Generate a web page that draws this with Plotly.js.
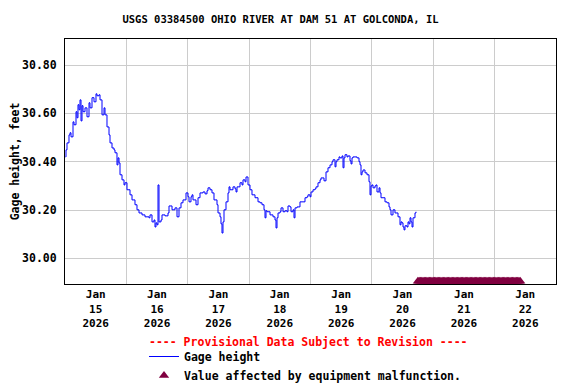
<!DOCTYPE html>
<html>
<head>
<meta charset="utf-8">
<script src="https://cdn.plot.ly/plotly-3.0.1.min.js"></script>
<style>html,body{margin:0;padding:0;background:#fff;}#chart{width:576px;height:384px;}</style>
</head>
<body>
<div id="chart"></div>
<script>
// Hours since 2026-01-15 00:00
const hours = [0.20,0.39,0.78,1.56,1.96,2.35,3.13,3.52,4.30,4.69,5.08,5.47,5.87,6.26,6.65,7.04,7.82,8.60,9.39,9.78,
10.56,11.34,12.12,12.51,13.30,13.69,14.47,15.25,15.64,16.42,17.21,17.60,18.38,19.16,19.55,20.33,20.73,21.12,21.51,22.29,
23.07,23.46,24.24,25.42,26.20,27.37,28.15,28.94,30.11,31.28,32.85,33.24,34.02,34.80,35.19,35.58,35.98,36.37,36.76,37.54,
37.93,39.11,40.28,40.67,41.85,43.01,43.80,44.58,45.36,46.14,47.32,48.10,48.49,49.27,49.66,50.05,51.23,52.01,52.79,53.96,
54.75,55.53,55.92,56.70,57.48,58.26,59.44,59.83,60.61,61.00,61.39,61.78,62.18,62.96,63.74,64.13,64.52,65.30,65.69,66.48,
66.87,67.26,68.43,69.21,69.61,70.39,70.78,71.56,72.34,73.12,74.30,75.47,76.25,77.04,77.82,78.21,78.60,78.99,80.17,81.34,
82.12,82.51,82.90,83.30,84.08,84.47,85.25,86.03,86.81,87.20,87.98,88.38,89.16,89.55,89.94,90.72,91.89,93.07,93.85,94.63,
95.02,95.80,96.20,96.98,97.76,98.15,98.93,99.72,100.11,100.89,101.28,102.06,102.84,103.63,104.41,104.80,105.58,105.97,106.36,107.15,
107.54,108.32,108.71,109.10,109.49,110.27,110.66,111.45,111.84,112.23,112.62,113.40,114.18,114.97,115.36,115.75,116.14,116.53,117.31,118.09,
118.88,119.27,119.66,120.05,120.44,121.22,121.61,122.00,122.79,123.18,123.57,124.35,125.13,125.91,126.70,127.09,127.48,128.26,129.04,129.43,
130.22,131.00,131.39,131.78,132.17,132.56,132.95,133.74,134.13,134.52,134.91,135.30,135.69,136.08,136.86,137.25];

const gageHeight = [30.420,30.449,30.478,30.511,30.520,30.503,30.565,30.553,30.607,30.582,30.636,30.615,30.656,30.569,30.632,30.607,30.623,30.586,30.644,30.623,
30.665,30.648,30.681,30.673,30.677,30.656,30.594,30.623,30.594,30.544,30.511,30.478,30.457,30.449,30.437,30.387,30.416,30.395,30.346,30.325,
30.304,30.313,30.284,30.263,30.242,30.222,30.201,30.188,30.180,30.172,30.168,30.180,30.151,30.159,30.130,30.147,30.139,30.304,30.151,30.159,
30.180,30.176,30.188,30.217,30.201,30.209,30.172,30.209,30.230,30.242,30.271,30.255,30.234,30.255,30.263,30.242,30.222,30.251,30.271,30.275,
30.267,30.280,30.292,30.284,30.271,30.242,30.222,30.188,30.172,30.143,30.105,30.151,30.201,30.234,30.271,30.296,30.284,30.284,30.296,30.288,
30.275,30.296,30.313,30.304,30.325,30.317,30.337,30.304,30.284,30.263,30.251,30.234,30.230,30.222,30.201,30.168,30.197,30.193,30.180,30.172,
30.159,30.126,30.168,30.188,30.193,30.209,30.193,30.197,30.193,30.217,30.213,30.193,30.201,30.168,30.209,30.213,30.234,30.234,30.251,30.255,
30.263,30.255,30.275,30.284,30.288,30.296,30.313,30.325,30.333,30.333,30.321,30.358,30.375,30.387,30.400,30.408,30.379,30.400,30.408,30.420,
30.416,30.424,30.375,30.416,30.429,30.420,30.424,30.404,30.391,30.416,30.420,30.420,30.416,30.400,30.387,30.346,30.358,30.366,30.354,30.346,
30.317,30.263,30.300,30.304,30.292,30.300,30.304,30.275,30.292,30.271,30.251,30.251,30.234,30.230,30.213,30.201,30.180,30.201,30.188,30.188,
30.172,30.139,30.151,30.147,30.130,30.118,30.135,30.130,30.151,30.143,30.168,30.151,30.130,30.168,30.188,30.193];

// Equipment malfunction flags (hours since 2026-01-15 00:00)
const malfunctionHours = [138,138.5,139,139.5,140,140.5,141,141.5,142,142.5,143,143.5,144,144.5,145,145.5,146,146.5,147,147.5,
148,148.5,149,149.5,150,150.5,151,151.5,152,152.5,153,153.5,154,154.5,155,155.5,156,156.5,157,157.5,
158,158.5,159,159.5,160,160.5,161,161.5,162,162.5,163,163.5,164,164.5,165,165.5,166,166.5,167,167.5,
168,168.5,169,169.5,170,170.5,171,171.5,172,172.5,173,173.5,174,174.5,175,175.5,176,176.5,177,177.5,178];
const malfunctionLevel = 29.905;

const dayLabelHours = [12,36,60,84,108,132,156,180];
const dayLabels = ['Jan<br>15<br>2026','Jan<br>16<br>2026','Jan<br>17<br>2026','Jan<br>18<br>2026',
                   'Jan<br>19<br>2026','Jan<br>20<br>2026','Jan<br>21<br>2026','Jan<br>22<br>2026'];
const midnightHours = [24,48,72,96,120,144,168];
const yTicks = [30.00,30.20,30.40,30.60,30.80];

const FONT = 'DejaVu Sans Mono, monospace';

const traces = [
  {
    x: hours, y: gageHeight, type: 'scatter', mode: 'lines',
    line: {color: '#0000FF', width: 1, shape: 'hv'},
    name: 'Gage height', xaxis: 'x', yaxis: 'y'
  },
  {
    x: malfunctionHours, y: malfunctionHours.map(() => malfunctionLevel),
    type: 'scatter', mode: 'markers',
    marker: {symbol: 'triangle-up', size: 9, color: '#800040'},
    name: 'Value affected by equipment malfunction.', xaxis: 'x', yaxis: 'y'
  },
  {x: [0], y: [null], xaxis: 'x2', yaxis: 'y', showlegend: false, hoverinfo: 'skip', mode: 'lines'}
];

const layout = {
  width: 576, height: 384,
  margin: {l: 65, r: 20, t: 39, b: 100, pad: 0, autoexpand: false},
  paper_bgcolor: '#fff', plot_bgcolor: '#fff',
  font: {family: FONT, size: 11, color: '#000', weight: 'bold'},
  title: {
    text: 'USGS 03384500 OHIO RIVER AT DAM 51 AT GOLCONDA, IL',
    font: {family: FONT, size: 10.5, color: '#000', weight: 'bold'},
    xref: 'container', x: 0.487, xanchor: 'center',
    yref: 'container', y: 0.95, yanchor: 'middle'
  },
  xaxis: {
    range: [0, 192], showgrid: false, zeroline: false, automargin: false,
    tickmode: 'array', tickvals: dayLabelHours, ticktext: dayLabels, tickangle: 0,
    ticks: '', showline: true, linecolor: '#000', linewidth: 1, mirror: true,
    tickfont: {family: FONT, size: 11, weight: 'bold'}
  },
  xaxis2: {
    range: [0, 192], overlaying: 'x', matches: 'x', showgrid: true, gridcolor: '#CCCCCC', gridwidth: 1,
    tickmode: 'array', tickvals: midnightHours, showticklabels: false, ticks: '', zeroline: false, automargin: false
  },
  yaxis: {
    range: [29.894, 30.908], showgrid: true, gridcolor: '#CCCCCC', gridwidth: 1, zeroline: false, automargin: false,
    tickmode: 'array', tickvals: yTicks, tickformat: '.2f', ticks: '',
    ticklabelstandoff: 5,
    showline: true, linecolor: '#000', linewidth: 1, mirror: true,
    tickfont: {family: FONT, size: 11.5, weight: 'bold'},
    title: {text: 'Gage height, feet', font: {family: FONT, size: 11.5, weight: 'bold'}, standoff: 0}
  },
  showlegend: true,
  legend: {
    x: (144 - 65) / 491, xref: 'paper', xanchor: 'left',
    y: -(366 - 284) / 245, yref: 'paper', yanchor: 'middle',
    orientation: 'v', bgcolor: 'rgba(0,0,0,0)', borderwidth: 0,
    font: {family: FONT, size: 11.5, weight: 'bold', color: '#000'},
    itemwidth: 30, tracegroupgap: 0
  },
  annotations: [{
    text: '---- Provisional Data Subject to Revision ----',
    xref: 'paper', yref: 'paper', x: (308 - 65) / 491, y: -(342 - 284) / 245,
    xanchor: 'center', yanchor: 'middle', showarrow: false,
    font: {family: FONT, size: 11.5, color: '#FF0000', weight: 'bold'}
  }]
};

Plotly.newPlot('chart', traces, layout, {staticPlot: true});
</script>
</body>
</html>
